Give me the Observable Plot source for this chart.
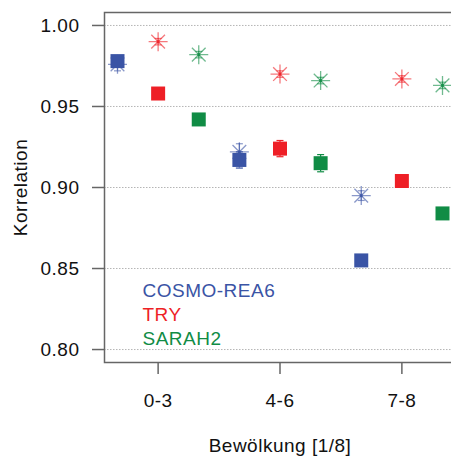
<!DOCTYPE html>
<html><head><meta charset="utf-8">
<script src="https://cdn.jsdelivr.net/npm/d3@7"></script>
<script src="https://cdn.jsdelivr.net/npm/@observablehq/plot@0.6"></script>
<style>html,body{margin:0;padding:0;background:#fff;overflow:hidden} svg text{letter-spacing:0.5px}</style>
</head><body><div id="chart"></div>
<script>
// Categories (cloud cover classes) and series
const categories = ["0-3", "4-6", "7-8"];
const seriesNames = ["COSMO-REA6", "TRY", "SARAH2"];
const seriesColors = ["#3a54a5", "#ee1f26", "#108c45"];

// Square markers (correlation) per category
const cosmoSquare = [0.978, 0.917, 0.855];
const trySquare   = [0.958, 0.924, 0.904];
const sarahSquare = [0.942, 0.915, 0.884];
// Error bars of square markers
const cosmoSquareErr = [0.003, 0.005, 0.002];
const trySquareErr   = [0.002, 0.005, 0.002];
const sarahSquareErr = [0.002, 0.0053, 0.002];

// Asterisk markers (correlation) per category
const cosmoStar = [0.976, 0.922, 0.895];
const tryStar   = [0.990, 0.970, 0.967];
const sarahStar = [0.982, 0.966, 0.963];
// Error bars of asterisk markers
const cosmoStarErr = [0.004, 0.005, 0.003];
const tryStarErr   = [0.002, 0.002, 0.002];
const sarahStarErr = [0.002, 0.002, 0.002];

const yTicks = [0.80, 0.85, 0.90, 0.95, 1.00];

const squares = [cosmoSquare, trySquare, sarahSquare];
const squareErrs = [cosmoSquareErr, trySquareErr, sarahSquareErr];
const stars = [cosmoStar, tryStar, sarahStar];
const starErrs = [cosmoStarErr, tryStarErr, sarahStarErr];

const rows = [];
seriesNames.forEach((s, si) => {
  categories.forEach((c, ci) => {
    rows.push({
      series: s, color: seriesColors[si],
      x: ci + 1 + (si - 1) / 3,
      sq: squares[si][ci], sqErr: squareErrs[si][ci],
      st: stars[si][ci], stErr: starErrs[si][ci]
    });
  });
});

const asterisk = {
  draw(ctx, size) {
    const r = Math.sqrt(size / Math.PI), d = r * 0.72;
    ctx.moveTo(-r, 0); ctx.lineTo(r, 0);
    ctx.moveTo(0, -r); ctx.lineTo(0, r);
    ctx.moveTo(-d, -d); ctx.lineTo(d, d);
    ctx.moveTo(-d, d); ctx.lineTo(d, -d);
  }
};
const hcap = {
  draw(ctx, size) {
    const r = Math.sqrt(size / Math.PI);
    ctx.moveTo(-r, 0); ctx.lineTo(r, 0);
  }
};

const FS = 19;
const legendMarks = seriesNames.map((s, i) =>
  Plot.text([s], {
    text: d => d, frameAnchor: "bottom-left", textAnchor: "start", lineAnchor: "bottom",
    dx: 38, dy: -66 + 24 * i, fill: seriesColors[i], fontSize: FS
  })
);

const chart = Plot.plot({
  width: 451, height: 457,
  marginLeft: 104, marginRight: -4, marginTop: 12, marginBottom: 95,
  style: {fontFamily: "'Liberation Sans', Arial, Helvetica, sans-serif", fontSize: FS + "px", color: "#111", background: "#fff"},
  x: {domain: [0.56, 3.44]},
  y: {domain: [0.792, 1.008]},
  marks: [
    Plot.ruleY(yTicks, {stroke: "#b5b5b5", strokeDasharray: "1.5,1.5", strokeWidth: 1}),
    Plot.frame({stroke: "#666", strokeWidth: 1.5}),
    Plot.axisY({ticks: yTicks, tickFormat: d3.format(".2f"), tickSize: 12, tickPadding: 13,
      stroke: "#666", strokeWidth: 1.5, fill: "#111", fontSize: FS,
      label: "Korrelation", labelArrow: "none", labelAnchor: "center", labelOffset: 91}),
    Plot.axisX({ticks: [1, 2, 3], tickFormat: d => categories[d - 1], tickSize: 12, tickPadding: 19,
      stroke: "#666", strokeWidth: 1.5, fill: "#111", fontSize: FS,
      label: "Bewölkung [1/8]", labelArrow: "none", labelAnchor: "center", labelOffset: 89}),
    // asterisks with error bars
    Plot.ruleX(rows, {x: "x", y1: d => d.st - d.stErr, y2: d => d.st + d.stErr, stroke: "color", strokeOpacity: 0.6, strokeWidth: 1.2}),
    Plot.dot(rows, {x: "x", y: d => d.st - d.stErr, symbol: hcap, r: 3.5, stroke: "color", strokeOpacity: 0.6, strokeWidth: 1.2, fill: "none"}),
    Plot.dot(rows, {x: "x", y: d => d.st + d.stErr, symbol: hcap, r: 3.5, stroke: "color", strokeOpacity: 0.6, strokeWidth: 1.2, fill: "none"}),
    Plot.dot(rows, {x: "x", y: "st", symbol: asterisk, r: 9.5, stroke: "color", strokeOpacity: 0.6, strokeWidth: 1.3, fill: "none"}),
    Plot.dot(rows, {x: "x", y: "st", symbol: "square", r: 1.6, fill: "color", fillOpacity: 0.85, stroke: "none"}),
    // squares with error bars
    Plot.ruleX(rows, {x: "x", y1: d => d.sq - d.sqErr, y2: d => d.sq + d.sqErr, stroke: "color", strokeWidth: 1.2}),
    Plot.dot(rows, {x: "x", y: d => d.sq - d.sqErr, symbol: hcap, r: 3.5, stroke: "color", strokeWidth: 1.2, fill: "none"}),
    Plot.dot(rows, {x: "x", y: d => d.sq + d.sqErr, symbol: hcap, r: 3.5, stroke: "color", strokeWidth: 1.2, fill: "none"}),
    Plot.dot(rows, {x: "x", y: "sq", symbol: "square", r: 7.9, fill: "color", stroke: "none"}),
    ...legendMarks
  ]
});
document.getElementById("chart").appendChild(chart);
</script>
</body></html>
